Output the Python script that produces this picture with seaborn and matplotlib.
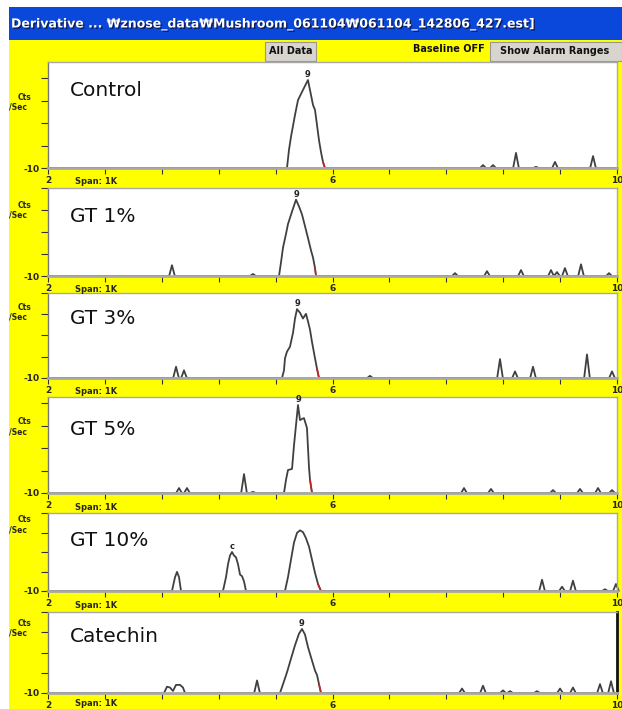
import matplotlib
matplotlib.use("Agg")
import matplotlib.pyplot as plt
import matplotlib.patheffects as pe
from matplotlib.patches import Rectangle
import seaborn as sns
import pandas as pd

sns.set_theme(style="white")
plt.rcParams["font.family"] = ["DejaVu Sans"]

# ---------------- data ----------------
panel_names = ["Control", "GT 1%", "GT 3%", "GT 5%", "GT 10%", "Catechin"]
peak_tags = ["9", "9", "9", "9", "c", "9"]

x_ticks = [2, 2.8, 3.6, 4.4, 5.2, 6.0, 6.8, 7.6, 8.4, 9.2, 10]
x_tick_labels = ["2", "", "", "", "", "6", "", "", "", "", "10"]
y_ticks = [-10, 90, 190, 290, 390]
y_tick_labels = ["-10", "", "", "", ""]

control_peak_x = [5.360, 5.388, 5.416, 5.473, 5.515, 5.585, 5.655, 5.698, 5.726, 5.754, 5.782, 5.810, 5.838, 5.866, 5.894]
control_peak_y = [-10, 70, 128, 226, 292, 337, 381, 314, 270, 248, 181, 114, 61, 17, -10]
control_spike_x = [8.116, 8.257, 8.580, 8.861, 9.128, 9.663]
control_spike_h = [3, 3, 57, -5, 17, 43]

gt1_peak_x = [5.248, 5.276, 5.304, 5.346, 5.374, 5.431, 5.487, 5.529, 5.571, 5.613, 5.655, 5.698, 5.726, 5.754, 5.768]
gt1_peak_y = [-10, 52, 119, 181, 226, 283, 337, 306, 270, 217, 163, 106, 74, 26, -10]
gt1_spike_x = [3.743, 4.882, 7.722, 8.172, 8.650, 9.072, 9.156, 9.268, 9.494, 9.888]
gt1_spike_h = [39, -1, 3, 12, 17, 17, 8, 26, 43, 3]

gt3_peak_x = [5.290, 5.318, 5.332, 5.360, 5.402, 5.445, 5.473, 5.501, 5.543, 5.585, 5.627, 5.655, 5.684, 5.712, 5.754, 5.782, 5.810]
gt3_peak_y = [-10, 26, 83, 114, 137, 203, 270, 314, 297, 270, 292, 257, 217, 159, 83, 34, -10]
gt3_spike_x = [3.800, 3.912, 6.527, 8.355, 8.566, 8.819, 9.578, 9.930]
gt3_spike_h = [43, 26, 0, 79, 21, 43, 101, 21]

gt5_peak_x = [5.318, 5.346, 5.374, 5.431, 5.459, 5.487, 5.515, 5.543, 5.571, 5.599, 5.641, 5.670, 5.684, 5.712]
gt5_peak_y = [-10, 48, 92, 97, 203, 292, 381, 314, 319, 323, 279, 101, 48, -10]
gt5_spike_x = [3.842, 3.954, 4.756, 4.882, 7.849, 8.228, 9.100, 9.480, 9.733, 9.930]
gt5_spike_h = [12, 12, 74, -5, 12, 8, 3, 8, 12, 3]

gt10_peak_x = [5.332, 5.374, 5.416, 5.459, 5.501, 5.543, 5.585, 5.627, 5.670, 5.712, 5.754, 5.796, 5.838]
gt10_peak_y = [-10, 61, 150, 239, 288, 301, 292, 261, 217, 150, 83, 26, -10]
gt10_c_x = [4.460, 4.503, 4.531, 4.559, 4.587, 4.615, 4.643, 4.671, 4.700, 4.728, 4.756, 4.784]
gt10_c_y = [-10, 61, 128, 172, 190, 172, 163, 128, 74, 66, 39, -10]
gt10_left_x = [3.743, 3.786, 3.814, 3.842, 3.870]
gt10_left_y = [-10, 61, 88, 61, -10]
gt10_spike_x = [8.946, 9.227, 9.381, 9.831, 9.985]
gt10_spike_h = [48, 12, 43, -1, 26]

cat_peak_x = [5.262, 5.318, 5.360, 5.416, 5.473, 5.529, 5.571, 5.613, 5.655, 5.712, 5.754, 5.782, 5.810, 5.838]
cat_peak_y = [-10, 48, 92, 159, 226, 283, 306, 279, 217, 150, 101, 79, 34, -10]
cat_pair_x = [3.631, 3.673, 3.715, 3.757, 3.800, 3.856, 3.898, 3.926]
cat_pair_y = [-10, 21, 17, 0, 30, 30, 17, -10]
cat_spike_x = [4.939, 7.821, 8.116, 8.397, 8.496, 8.875, 9.199, 9.381, 9.761, 9.916]
cat_spike_h = [52, 12, 26, 3, -1, -1, 12, 17, 34, 48]

panel_shapes = [
    [(control_peak_x, control_peak_y)],
    [(gt1_peak_x, gt1_peak_y)],
    [(gt3_peak_x, gt3_peak_y)],
    [(gt5_peak_x, gt5_peak_y)],
    [(gt10_peak_x, gt10_peak_y), (gt10_c_x, gt10_c_y), (gt10_left_x, gt10_left_y)],
    [(cat_peak_x, cat_peak_y), (cat_pair_x, cat_pair_y)],
]
panel_spikes = [
    (control_spike_x, control_spike_h),
    (gt1_spike_x, gt1_spike_h),
    (gt3_spike_x, gt3_spike_h),
    (gt5_spike_x, gt5_spike_h),
    (gt10_spike_x, gt10_spike_h),
    (cat_spike_x, cat_spike_h),
]
tag_shape_index = [0, 0, 0, 0, 1, 0]

# ---------------- layout (pixels) ----------------
W, H = 622, 709
panel_top = [62, 188, 293, 397, 513, 612]
panel_base = [168, 276, 378, 493, 591, 693]
plot_left, plot_right = 48, 617
px_per_tick = 22.5  # pixels per 100 cts/sec
label_cy = [90, 217, 319, 430, 540, 637]
cts_off = [35, 17, 14, 25, 7, 11]

YELLOW = "#ffff00"
TRACE = "#404040"

fig = plt.figure(figsize=(W / 100, H / 100), dpi=100)
fig.patch.set_facecolor("white")


def fx(px):
    return px / W


def fy(py):
    return 1 - py / H


# background strips (behind the axes)
fig.patches.append(Rectangle((fx(9), 0), fx(W - 9), (H - 40) / H, transform=fig.transFigure,
                             facecolor=YELLOW, edgecolor="none", zorder=-10))
fig.patches.append(Rectangle((fx(9), fy(40)), fx(W - 9), 33 / H, transform=fig.transFigure,
                             facecolor="#0a48dc", edgecolor="none", zorder=-10))
# buttons
for (x0, x1) in [(265, 316), (490, 622)]:
    fig.patches.append(Rectangle((fx(x0), fy(61)), fx(x1 - x0), 19 / H, transform=fig.transFigure,
                                 facecolor="#d8d5cf", edgecolor="#9a9890", linewidth=0.8, zorder=-5))

title_font = ["DejaVu Sans"]
fig.text(fx(11), fy(24), "Derivative ... \u20a9znose_data\u20a9Mushroom_061104\u20a9061104_142806_427.est]",
         color="white", fontsize=9, fontweight="bold", family=title_font, va="center", ha="left",
         path_effects=[pe.withSimplePatchShadow(offset=(1, -1), shadow_rgbFace="#10184a", alpha=0.9)])
fig.text(fx(290.5), fy(51), "All Data", fontsize=7, fontweight="bold", family=title_font,
         ha="center", va="center", color="#111111")
fig.text(fx(449), fy(49), "Baseline OFF", fontsize=7, fontweight="bold", family=title_font,
         ha="center", va="center", color="#111111")
fig.text(fx(555), fy(51), "Show Alarm Ranges", fontsize=7, fontweight="bold", family=title_font,
         ha="center", va="center", color="#111111")


def build_trace(shapes, spikes, hw=0.04):
    segs = [list(zip(sx, sy)) for sx, sy in shapes]
    segs += [[(c - hw, -10), (c, h), (c + hw, -10)] for c, h in zip(*spikes)]
    segs.sort(key=lambda s: s[0][0])
    pts = [(2, -10)] + [p for s in segs for p in s] + [(10, -10)]
    return pd.DataFrame(pts, columns=["t", "cts"])


for i, name in enumerate(panel_names):
    top, base = panel_top[i], panel_base[i]
    ax = fig.add_axes([fx(plot_left), fy(base), fx(plot_right - plot_left), (base - top) / H])
    ax.set_facecolor("white")
    ymax = -10 + (base - top) / px_per_tick * 100

    df = build_trace(panel_shapes[i], panel_spikes[i])
    main_x, main_y = panel_shapes[i][0]
    # green baseline markers under main peak
    sns.lineplot(x=[main_x[0] + 0.05, main_x[-1] - 0.05], y=[-10, -10], ax=ax,
                 color="#7fcf8f", linewidth=1.2, estimator=None, sort=False)
    sns.lineplot(data=df, x="t", y="cts", ax=ax, sort=False, estimator=None,
                 color=TRACE, linewidth=1.3)
    # red end-of-peak marker
    sns.lineplot(x=main_x[-2:], y=main_y[-2:], ax=ax, color="#d02020", linewidth=1.1,
                 estimator=None, sort=False)
    for ln in ax.lines:
        ln.set_clip_on(False)

    sx, sy = panel_shapes[i][tag_shape_index[i]]
    k = max(range(len(sy)), key=lambda j: sy[j])
    ax.annotate(peak_tags[i], xy=(sx[k], sy[k]), xytext=(0, 0.5), textcoords="offset points",
                ha="center", va="bottom", fontsize=6, fontweight="bold", color="#222222")

    ax.set_xlim(2, 10)
    ax.set_ylim(-10, ymax)
    ax.set_xticks(x_ticks)
    ax.set_xticklabels(x_tick_labels)
    ax.set_yticks(y_ticks)
    ax.set_yticklabels(y_tick_labels)
    ax.set_xlabel("")
    ax.set_ylabel("")
    ax.tick_params(axis="x", direction="out", length=4.5, width=0.8, color="#333333",
                   pad=1.5, labelsize=6.5, bottom=True)
    ax.tick_params(axis="y", direction="out", length=5, width=0.8, color="#333333",
                   pad=1, labelsize=6.5, left=True)
    for lab in ax.get_xticklabels() + ax.get_yticklabels():
        lab.set_fontweight("bold")
    for side, sp in ax.spines.items():
        sp.set_color("#a8a8a8")
        sp.set_linewidth(1.0)
    ax.spines["bottom"].set_linewidth(2.0)
    ax.spines["left"].set_color("#777777")
    if i == len(panel_names) - 1:
        ax.spines["right"].set_color("#111111")
        ax.spines["right"].set_linewidth(2.0)

    fig.text(fx(70), fy(label_cy[i]), name, fontsize=14.5, ha="left", va="center", color="#111111")
    fig.text(fx(24), fy(top + cts_off[i]), "Cts", fontsize=5.5, fontweight="bold", ha="center", va="center")
    fig.text(fx(9), fy(top + cts_off[i] + 10), "/Sec", fontsize=5.5, fontweight="bold", ha="left", va="center")
    fig.text(fx(75), fy(min(base + 14, 703)), "Span: 1K", fontsize=6, fontweight="bold", ha="left", va="center")

fig.savefig("out.png", dpi=100, facecolor="white")
